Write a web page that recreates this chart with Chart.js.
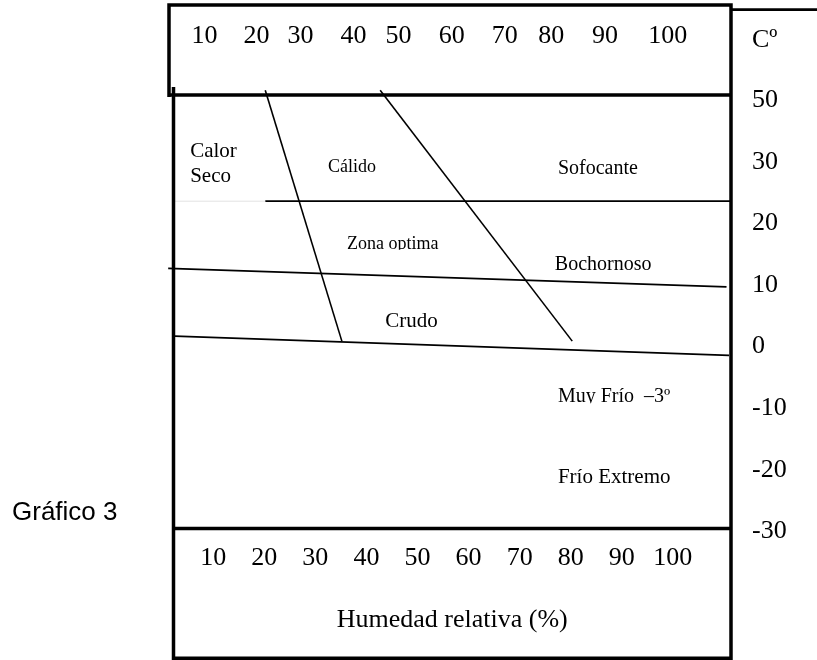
<!DOCTYPE html>
<html>
<head>
<meta charset="utf-8">
<script src="https://cdn.jsdelivr.net/npm/chart.js@4.4.1/dist/chart.umd.min.js"></script>
<style>
  html, body { margin: 0; padding: 0; background: #fff; }
  canvas { display: block; }
</style>
</head>
<body>
<canvas id="grafico3" width="817" height="660"></canvas>
<script>
(function () {
  "use strict";

  // Humedad relativa (%) - escala inferior
  var humedadTicks = [10, 20, 30, 40, 50, 60, 70, 80, 90, 100];
  // Escala superior: mismas etiquetas, pero caen en otros puntos de la escala inferior
  var humedadSupLabels = ['10', '20', '30', '40', '50', '60', '70', '80', '90', '100'];
  var humedadSupEn = [8.3, 18.5, 27.1, 37.5, 46.3, 56.7, 67.1, 76.2, 86.7, 99.0];

  // Temperatura (ºC) - la fila de arriba dice 50 aunque está a un paso de 30
  var tempTicks = [-30, -20, -10, 0, 10, 20, 30, 40];
  var tempLabels = ['-30', '-20', '-10', '0', '10', '20', '30', '50'];

  // Límites entre zonas (humedad, temperatura)
  var limCalidoX = [20.2, 35.2],  limCalidoY = [41.1, 0.4];
  var limSofocX  = [42.7, 80.3],  limSofocY  = [41.1, 0.4];
  var lim23X     = [20.2, 111.4], lim23Y     = [23.1, 23.1];
  var lim23SecoX = [2.3, 20.2],   lim23SecoY = [23.1, 23.1];
  var limOptX    = [1.2, 110.5],  limOptY    = [12.2, 9.2];
  var limCeroX   = [2.5, 111.0],  limCeroY   = [1.2, -1.9];

  // Nombres de zona
  var zonas = [['Calor', 'Seco'], ['Cálido'], ['Sofocante'], ['Zona optima'],
               ['Bochornoso'], ['Crudo'], ['Muy Frío  –3º'], ['Frío Extremo']];

  var SERIF = "'Liberation Serif', 'Times New Roman', serif";
  var SANS = "'Liberation Sans', Arial, sans-serif";

  // dónde va cada nombre (en unidades del gráfico) y a qué tamaño
  var zonaPos = [
    { x: 5.5,  y: 30.3,  size: 21, lh: 25 },
    { x: 32.5, y: 27.8,  size: 18 },
    { x: 77.5, y: 27.5,  size: 20 },
    { x: 36.2, y: 15.3,  size: 18, corte: 0.5 },
    { x: 76.9, y: 11.9,  size: 20, corte: 0 },
    { x: 43.7, y: 2.7,   size: 21 },
    { x: 77.5, y: -9.5,  size: 20, corte: 1 },
    { x: 77.5, y: -22.6, size: 21 }
  ];

  function pts(xs, ys) {
    return xs.map(function (x, i) { return { x: x, y: ys[i] }; });
  }

  function linea(xs, ys, w, color) {
    return {
      data: pts(xs, ys),
      showLine: true,
      borderColor: color || '#000',
      borderWidth: w,
      pointRadius: 0,
      tension: 0,
      clip: false
    };
  }

  var marcos = {
    id: 'marcos',
    afterDraw: function (chart) {
      var ctx = chart.ctx, a = chart.chartArea;
      var sx = chart.scales.x, sy = chart.scales.y;
      ctx.save();

      // nombres de zona
      ctx.fillStyle = '#000';
      ctx.textBaseline = 'alphabetic';
      ctx.textAlign = 'left';
      zonas.forEach(function (lineas, i) {
        var p = zonaPos[i];
        var px = sx.getPixelForValue(p.x), py = sy.getPixelForValue(p.y);
        ctx.save();
        if (p.corte !== undefined) {
          ctx.beginPath();
          ctx.rect(px - 5, py - 40, 200, 40 + p.corte);
          ctx.clip();
        }
        ctx.font = p.size + 'px ' + SERIF;
        lineas.forEach(function (t, k) { ctx.fillText(t, px, py + k * (p.lh || 0)); });
        ctx.restore();
      });

      ctx.font = '26px ' + SERIF;
      ctx.fillText('Cº', a.right + 21, 47);
      ctx.font = '26px ' + SANS;
      ctx.fillText('Gráfico 3', 12, 520);

      // recuadros
      ctx.strokeStyle = '#000';
      ctx.lineCap = 'butt';
      ctx.lineWidth = 3.5;
      ctx.beginPath();
      ctx.moveTo(167.25, 5); ctx.lineTo(a.right, 5);
      ctx.moveTo(169, 3.25); ctx.lineTo(169, 97);
      ctx.moveTo(167.25, a.top); ctx.lineTo(a.right, a.top);
      ctx.moveTo(a.left, 87); ctx.lineTo(a.left, 660);
      ctx.moveTo(a.right, 3.25); ctx.lineTo(a.right, 660);
      ctx.moveTo(a.left - 1.75, a.bottom); ctx.lineTo(a.right, a.bottom);
      ctx.moveTo(a.left - 1.75, 658.25); ctx.lineTo(a.right, 658.25);
      ctx.stroke();
      ctx.lineWidth = 2.7;
      ctx.beginPath();
      ctx.moveTo(a.right, 9.7); ctx.lineTo(817, 9.7);
      ctx.stroke();
      ctx.restore();
    }
  };

  var tickFont = { family: SERIF, size: 26 };

  new Chart(document.getElementById('grafico3'), {
    type: 'scatter',
    data: {
      datasets: [
        linea(lim23SecoX, lim23SecoY, 1, '#e2e2e2'),
        linea(limCalidoX, limCalidoY, 1.6),
        linea(limSofocX, limSofocY, 1.6),
        linea(lim23X, lim23Y, 1.8),
        linea(limOptX, limOptY, 1.8),
        linea(limCeroX, limCeroY, 1.8)
      ]
    },
    options: {
      responsive: false,
      animation: false,
      devicePixelRatio: 1,
      layout: { padding: { left: 173.5, right: 0, top: 0, bottom: 0 } },
      plugins: { legend: { display: false }, tooltip: { enabled: false } },
      scales: {
        x: {
          type: 'linear', position: 'bottom', min: 2.24, max: 111.38,
          grid: { display: false }, border: { display: false },
          afterBuildTicks: function (s) { s.ticks = humedadTicks.map(function (v) { return { value: v }; }); },
          afterFit: function (s) { s.height = 660 - 528.5; },
          ticks: { font: tickFont, color: '#000', padding: 6, autoSkip: false, maxRotation: 0, minRotation: 0 },
          title: { display: true, text: 'Humedad relativa (%)', font: tickFont, color: '#000', padding: { top: 0, bottom: 24 } }
        },
        xSup: {
          type: 'linear', position: 'top', min: 2.24, max: 111.38,
          grid: { display: false }, border: { display: false },
          afterBuildTicks: function (s) { s.ticks = humedadSupEn.map(function (v) { return { value: v }; }); },
          afterFit: function (s) { s.height = 95; },
          ticks: {
            font: tickFont, color: '#000', padding: 35, autoSkip: false, maxRotation: 0, minRotation: 0,
            callback: function (v, i) { return humedadSupLabels[i]; }
          }
        },
        y: {
          type: 'linear', position: 'right', min: -30, max: 40.33,
          grid: { display: false }, border: { display: false },
          afterBuildTicks: function (s) { s.ticks = tempTicks.map(function (v) { return { value: v }; }); },
          afterFit: function (s) { s.width = 817 - 731; },
          ticks: {
            font: tickFont, color: '#000', padding: 13, labelOffset: 3, autoSkip: false,
            callback: function (v, i) { return tempLabels[i]; }
          }
        }
      }
    },
    plugins: [marcos]
  });
})();
</script>
</body>
</html>
